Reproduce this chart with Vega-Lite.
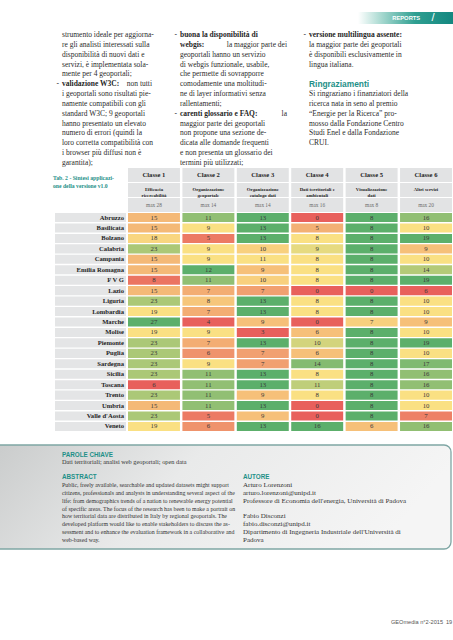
{
"$schema": "https://vega.github.io/schema/vega-lite/v6.json",
"width": 453,
"height": 640,
"autosize": {"type": "none"},
"padding": 0,
"background": "#ffffff",
"config": {"view": {"stroke": null}, "text": {"font": "Liberation Serif", "color": "#2b2b2b"}},
"datasets": {
"tabella": [
{"regione": "Abruzzo", "c1": 15, "c2": 11, "c3": 13, "c4": 0, "c5": 8, "c6": 16},
{"regione": "Basilicata", "c1": 15, "c2": 9, "c3": 13, "c4": 5, "c5": 8, "c6": 10},
{"regione": "Bolzano", "c1": 18, "c2": 5, "c3": 13, "c4": 8, "c5": 8, "c6": 19},
{"regione": "Calabria", "c1": 23, "c2": 9, "c3": 10, "c4": 9, "c5": 8, "c6": 9},
{"regione": "Campania", "c1": 15, "c2": 9, "c3": 11, "c4": 8, "c5": 8, "c6": 10},
{"regione": "Emilia Romagna", "c1": 15, "c2": 12, "c3": 9, "c4": 8, "c5": 8, "c6": 14},
{"regione": "F V G", "c1": 8, "c2": 11, "c3": 10, "c4": 8, "c5": 8, "c6": 19},
{"regione": "Lazio", "c1": 15, "c2": 7, "c3": 7, "c4": 0, "c5": 0, "c6": 6},
{"regione": "Liguria", "c1": 23, "c2": 8, "c3": 13, "c4": 8, "c5": 8, "c6": 10},
{"regione": "Lombardia", "c1": 19, "c2": 7, "c3": 13, "c4": 8, "c5": 8, "c6": 10},
{"regione": "Marche", "c1": 27, "c2": 4, "c3": 9, "c4": 0, "c5": 7, "c6": 9},
{"regione": "Molise", "c1": 19, "c2": 9, "c3": 3, "c4": 6, "c5": 8, "c6": 10},
{"regione": "Piemonte", "c1": 23, "c2": 7, "c3": 13, "c4": 10, "c5": 8, "c6": 19},
{"regione": "Puglia", "c1": 23, "c2": 6, "c3": 7, "c4": 6, "c5": 8, "c6": 10},
{"regione": "Sardegna", "c1": 23, "c2": 9, "c3": 7, "c4": 14, "c5": 8, "c6": 17},
{"regione": "Sicilia", "c1": 23, "c2": 11, "c3": 13, "c4": 8, "c5": 8, "c6": 16},
{"regione": "Toscana", "c1": 6, "c2": 11, "c3": 13, "c4": 11, "c5": 8, "c6": 16},
{"regione": "Trento", "c1": 23, "c2": 11, "c3": 9, "c4": 8, "c5": 8, "c6": 10},
{"regione": "Umbria", "c1": 15, "c2": 11, "c3": 13, "c4": 0, "c5": 8, "c6": 10},
{"regione": "Valle d'Aosta", "c1": 23, "c2": 5, "c3": 9, "c4": 0, "c5": 8, "c6": 7},
{"regione": "Veneto", "c1": 19, "c2": 6, "c3": 13, "c4": 16, "c5": 6, "c6": 16}
],
"intestazioni": [
{"classe": "c1", "titolo": "Classe 1", "descrizione": "Efficacia\nricercabilità", "massimo": "max 28"},
{"classe": "c2", "titolo": "Classe 2", "descrizione": "Organizzazione\ngeoportale", "massimo": "max 14"},
{"classe": "c3", "titolo": "Classe 3", "descrizione": "Organizzazione\ncatalogo dati", "massimo": "max 14"},
{"classe": "c4", "titolo": "Classe 4", "descrizione": "Dati territoriali e\nambientali", "massimo": "max 16"},
{"classe": "c5", "titolo": "Classe 5", "descrizione": "Visualizzazione\ndati", "massimo": "max 8"},
{"classe": "c6", "titolo": "Classe 6", "descrizione": "Altri servizi", "massimo": "max 20"}
],
"righe": [
{"colonna": 1, "riga": 1, "parte": "testo", "testo": "strumento ideale per aggiorna-"},
{"colonna": 1, "riga": 2, "parte": "testo", "testo": "re gli analisti interessati sulla"},
{"colonna": 1, "riga": 3, "parte": "testo", "testo": "disponibilità di nuovi dati e"},
{"colonna": 1, "riga": 4, "parte": "testo", "testo": "servizi, è implementata sola-"},
{"colonna": 1, "riga": 5, "parte": "testo", "testo": "mente per 4 geoportali;"},
{"colonna": 1, "riga": 6, "parte": "trattino", "testo": "-"},
{"colonna": 1, "riga": 6, "parte": "enfasi", "testo": "validazione W3C:"},
{"colonna": 1, "riga": 6, "parte": "seguito", "testo": "non tutti"},
{"colonna": 1, "riga": 7, "parte": "testo", "testo": "i geoportali sono risultati pie-"},
{"colonna": 1, "riga": 8, "parte": "testo", "testo": "namente compatibili con gli"},
{"colonna": 1, "riga": 9, "parte": "testo", "testo": "standard W3C; 9 geoportali"},
{"colonna": 1, "riga": 10, "parte": "testo", "testo": "hanno presentato un elevato"},
{"colonna": 1, "riga": 11, "parte": "testo", "testo": "numero di errori (quindi la"},
{"colonna": 1, "riga": 12, "parte": "testo", "testo": "loro corretta compatibilità con"},
{"colonna": 1, "riga": 13, "parte": "testo", "testo": "i browser più diffusi non è"},
{"colonna": 1, "riga": 14, "parte": "testo", "testo": "garantita);"},
{"colonna": 2, "riga": 1, "parte": "trattino", "testo": "-"},
{"colonna": 2, "riga": 1, "parte": "enfasi", "testo": "buona la disponibilità di"},
{"colonna": 2, "riga": 2, "parte": "enfasi", "testo": "webgis:"},
{"colonna": 2, "riga": 2, "parte": "seguito", "testo": "la maggior parte dei"},
{"colonna": 2, "riga": 3, "parte": "testo", "testo": "geoportali hanno un servizio"},
{"colonna": 2, "riga": 4, "parte": "testo", "testo": "di webgis funzionale, usabile,"},
{"colonna": 2, "riga": 5, "parte": "testo", "testo": "che permette di sovrapporre"},
{"colonna": 2, "riga": 6, "parte": "testo", "testo": "comodamente una moltitudi-"},
{"colonna": 2, "riga": 7, "parte": "testo", "testo": "ne di layer informativi senza"},
{"colonna": 2, "riga": 8, "parte": "testo", "testo": "rallentamenti;"},
{"colonna": 2, "riga": 9, "parte": "trattino", "testo": "-"},
{"colonna": 2, "riga": 9, "parte": "enfasi", "testo": "carenti glossario e FAQ:"},
{"colonna": 2, "riga": 9, "parte": "seguito", "testo": "la"},
{"colonna": 2, "riga": 10, "parte": "testo", "testo": "maggior parte dei geoportali"},
{"colonna": 2, "riga": 11, "parte": "testo", "testo": "non propone una sezione de-"},
{"colonna": 2, "riga": 12, "parte": "testo", "testo": "dicata alle domande frequenti"},
{"colonna": 2, "riga": 13, "parte": "testo", "testo": "e non presenta un glossario dei"},
{"colonna": 2, "riga": 14, "parte": "testo", "testo": "termini più utilizzati;"},
{"colonna": 3, "riga": 1, "parte": "trattino", "testo": "-"},
{"colonna": 3, "riga": 1, "parte": "enfasi", "testo": "versione multilingua assente:"},
{"colonna": 3, "riga": 2, "parte": "testo", "testo": "la maggior parte dei geoportali"},
{"colonna": 3, "riga": 3, "parte": "testo", "testo": "è disponibili esclusivamente in"},
{"colonna": 3, "riga": 4, "parte": "testo", "testo": "lingua italiana."},
{"colonna": 3, "riga": 6, "parte": "titolo", "testo": "Ringraziamenti"},
{"colonna": 3, "riga": 7, "parte": "testo", "testo": "Si ringraziano i finanziatori della"},
{"colonna": 3, "riga": 8, "parte": "testo", "testo": "ricerca nata in seno al premio"},
{"colonna": 3, "riga": 9, "parte": "testo", "testo": "“Energie per la Ricerca” pro-"},
{"colonna": 3, "riga": 10, "parte": "testo", "testo": "mosso dalla Fondazione Centro"},
{"colonna": 3, "riga": 11, "parte": "testo", "testo": "Studi Enel e dalla Fondazione"},
{"colonna": 3, "riga": 12, "parte": "testo", "testo": "CRUI."}
],
"riquadro": [
{"colonna": 1, "riga": -3, "parte": "titolo", "testo": "PAROLE CHIAVE"},
{"colonna": 1, "riga": -2, "parte": "parole", "testo": "Dati territoriali; analisi web geoportali; open data"},
{"colonna": 1, "riga": 0, "parte": "titolo", "testo": "ABSTRACT"},
{"colonna": 1, "riga": 1, "parte": "testo", "testo": "Public, freely available, searchable and updated datasets might support"},
{"colonna": 1, "riga": 2, "parte": "testo", "testo": "citizens, professionals and analysts in understanding several aspect of the"},
{"colonna": 1, "riga": 3, "parte": "testo", "testo": "life: from demographics trends of a nation to renewable energy potential"},
{"colonna": 1, "riga": 4, "parte": "testo", "testo": "of specific areas. The focus of the research has been to make a portrait on"},
{"colonna": 1, "riga": 5, "parte": "testo", "testo": "how territorial data are distributed in Italy by regional geoportals. The"},
{"colonna": 1, "riga": 6, "parte": "testo", "testo": "developed platform would like to enable stakeholders to discuss the as-"},
{"colonna": 1, "riga": 7, "parte": "testo", "testo": "sessment and to enhance the evaluation framework in a collaborative and"},
{"colonna": 1, "riga": 8, "parte": "testo", "testo": "web-based way."},
{"colonna": 2, "riga": 0, "parte": "titolo", "testo": "AUTORE"},
{"colonna": 2, "riga": 1, "parte": "autori", "testo": "Arturo Lorenzoni"},
{"colonna": 2, "riga": 2, "parte": "autori", "testo": "arturo.lorenzoni@unipd.it"},
{"colonna": 2, "riga": 3, "parte": "autori", "testo": "Professore di Economia dell'energia, Università di Padova"},
{"colonna": 2, "riga": 5, "parte": "autori", "testo": "Fabio Disconzi"},
{"colonna": 2, "riga": 6, "parte": "autori", "testo": "fabio.disconzi@unipd.it"},
{"colonna": 2, "riga": 7, "parte": "autori", "testo": "Dipartimento di Ingegneria Industriale dell'Università di"},
{"colonna": 2, "riga": 8, "parte": "autori", "testo": "Padova"}
]
},
"layer": [
{
"data": {"values": [{"rubrica": "REPORTS"}]},
"encoding": {
"x": {"field": "rubrica", "type": "nominal", "axis": null, "scale": {"type": "band", "domain": ["REPORTS"], "range": [358, 453], "paddingInner": 0, "paddingOuter": 0}},
"y": {"field": "rubrica", "type": "nominal", "axis": null, "scale": {"type": "band", "domain": ["REPORTS"], "range": [12, 24], "paddingInner": 0, "paddingOuter": 0}}
},
"layer": [
{"mark": {"type": "rect", "fill": {"gradient": "linear", "x1": 0, "y1": 0, "x2": 1, "y2": 0, "stops": [{"offset": 0, "color": "#ffffff"}, {"offset": 0.25, "color": "#a6d8cf"}, {"offset": 0.6, "color": "#2f9f91"}, {"offset": 1, "color": "#138780"}]}}},
{"mark": {"type": "text", "align": "left", "baseline": "middle", "font": "Liberation Sans", "fontWeight": "bold", "fontSize": 5.8, "color": "#ffffff"}, "encoding": {"x": {"field": "rubrica", "type": "nominal", "bandPosition": 0.36}, "text": {"field": "rubrica"}}},
{"mark": {"type": "text", "text": "/", "align": "center", "baseline": "middle", "font": "Liberation Sans", "fontSize": 11, "color": "#ffffff"}, "encoding": {"x": {"field": "rubrica", "type": "nominal", "bandPosition": 0.79}}}
]
},
{
"data": {"name": "righe"},
"encoding": {
"x": {"field": "colonna", "type": "quantitative", "axis": null, "scale": {"domain": [1, 2, 3], "range": [62, 180, 309], "zero": false, "nice": false}},
"y": {"field": "riga", "type": "quantitative", "axis": null, "scale": {"domain": [1, 14], "range": [35, 163], "zero": false, "nice": false}},
"text": {"field": "testo"}
},
"layer": [
{"transform": [{"filter": "datum.parte === 'testo'"}], "mark": {"type": "text", "align": "left", "baseline": "middle", "fontSize": 7.5}},
{"transform": [{"filter": "datum.parte === 'enfasi'"}], "mark": {"type": "text", "align": "left", "baseline": "middle", "fontSize": 7.5, "fontWeight": "bold", "color": "#1f1f1f"}},
{"transform": [{"filter": "datum.parte === 'trattino'"}], "mark": {"type": "text", "align": "right", "baseline": "middle", "fontSize": 7.5, "dx": -3}},
{"transform": [{"filter": "datum.parte === 'titolo'"}], "mark": {"type": "text", "align": "left", "baseline": "middle", "font": "Liberation Sans", "fontWeight": "bold", "fontSize": 8.4, "color": "#1e9088"}}
]
},
{
"data": {"name": "righe"},
"transform": [{"filter": "datum.parte === 'seguito'"}],
"mark": {"type": "text", "align": "right", "baseline": "middle", "fontSize": 7.5},
"encoding": {
"x": {"field": "colonna", "type": "quantitative", "axis": null, "scale": {"domain": [1, 2, 3], "range": [152, 287, 430], "zero": false, "nice": false}},
"y": {"field": "riga", "type": "quantitative", "axis": null, "scale": {"domain": [1, 14], "range": [35, 163], "zero": false, "nice": false}},
"text": {"field": "testo"}
}
},
{
"data": {"values": [{"didascalia": "Tab. 2 - Sintesi applicazi-\none della versione v1.0"}]},
"mark": {"type": "text", "align": "left", "baseline": "top", "lineBreak": "\n", "lineHeight": 8, "fontSize": 5.7, "fontWeight": "bold", "color": "#1e9088"},
"encoding": {
"x": {"field": "didascalia", "type": "nominal", "axis": null, "bandPosition": 0, "scale": {"type": "band", "range": [53, 126], "paddingInner": 0, "paddingOuter": 0}},
"y": {"field": "didascalia", "type": "nominal", "axis": null, "bandPosition": 0, "scale": {"type": "band", "range": [174.5, 190], "paddingInner": 0, "paddingOuter": 0}},
"text": {"field": "didascalia"}
}
},
{
"data": {"name": "intestazioni"},
"transform": [{"fold": ["titolo", "descrizione", "massimo"], "as": ["riga", "etichetta"]}],
"encoding": {
"x": {"field": "classe", "type": "nominal", "axis": null, "scale": {"type": "band", "domain": ["c1", "c2", "c3", "c4", "c5", "c6"], "range": [128, 452], "paddingInner": 0.045, "paddingOuter": 0}},
"y": {"field": "riga", "type": "nominal", "axis": null, "scale": {"type": "band", "domain": ["titolo", "descrizione", "massimo"], "range": [168, 212], "paddingInner": 0.07, "paddingOuter": 0}}
},
"layer": [
{"mark": {"type": "rect", "color": "#e2e3e4"}},
{"transform": [{"filter": "datum.riga === 'titolo'"}], "mark": {"type": "text", "fontSize": 6.6, "fontWeight": "bold", "color": "#1f1f1f", "baseline": "middle"}, "encoding": {"text": {"field": "etichetta"}}},
{"transform": [{"filter": "datum.riga === 'descrizione'"}], "mark": {"type": "text", "fontSize": 4.8, "fontWeight": "bold", "color": "#1f1f1f", "lineBreak": "\n", "lineHeight": 6.2, "baseline": "middle"}, "encoding": {"text": {"field": "etichetta"}}},
{"transform": [{"filter": "datum.riga === 'massimo'"}], "mark": {"type": "text", "fontSize": 5.3, "color": "#6b6b6b", "baseline": "middle"}, "encoding": {"text": {"field": "etichetta"}}}
]
},
{
"data": {"name": "tabella"},
"encoding": {
"y": {"field": "regione", "type": "nominal", "axis": null, "scale": {"type": "band", "domain": ["Abruzzo", "Basilicata", "Bolzano", "Calabria", "Campania", "Emilia Romagna", "F V G", "Lazio", "Liguria", "Lombardia", "Marche", "Molise", "Piemonte", "Puglia", "Sardegna", "Sicilia", "Toscana", "Trento", "Umbria", "Valle d'Aosta", "Veneto"], "range": [213, 431], "paddingInner": 0.13, "paddingOuter": 0}}
},
"layer": [
{"mark": {"type": "rect", "color": "#e4e5e6"}, "encoding": {"x": {"datum": "Regione", "type": "nominal", "axis": null, "scale": {"type": "band", "domain": ["Regione"], "range": [55, 126], "paddingInner": 0, "paddingOuter": 0}}}},
{"mark": {"type": "text", "align": "right", "baseline": "middle", "fontSize": 6.6, "fontWeight": "bold", "color": "#1f1f1f", "dx": -2}, "encoding": {"x": {"datum": "Regione", "type": "nominal", "bandPosition": 1}, "text": {"field": "regione"}}}
]
},
{
"data": {"name": "tabella"},
"transform": [{"fold": ["c1", "c2", "c3", "c4", "c5", "c6"], "as": ["classe", "valore"]}],
"encoding": {
"x": {"field": "classe", "type": "nominal", "axis": null, "scale": {"type": "band", "domain": ["c1", "c2", "c3", "c4", "c5", "c6"], "range": [128, 452], "paddingInner": 0.045, "paddingOuter": 0}},
"y": {"field": "regione", "type": "nominal", "axis": null, "scale": {"type": "band", "domain": ["Abruzzo", "Basilicata", "Bolzano", "Calabria", "Campania", "Emilia Romagna", "F V G", "Lazio", "Liguria", "Lombardia", "Marche", "Molise", "Piemonte", "Puglia", "Sardegna", "Sicilia", "Toscana", "Trento", "Umbria", "Valle d'Aosta", "Veneto"], "range": [213, 431], "paddingInner": 0.13, "paddingOuter": 0}}
},
"layer": [
{"transform": [{"filter": "datum.classe === 'c1'"}], "mark": "rect", "encoding": {"color": {"field": "valore", "type": "quantitative", "legend": null, "scale": {"domain": [6, 19, 27], "range": ["#e8605c", "#fae083", "#5caf6b"], "interpolate": "rgb"}}}},
{"transform": [{"filter": "datum.classe === 'c2'"}], "mark": "rect", "encoding": {"color": {"field": "valore", "type": "quantitative", "legend": null, "scale": {"domain": [4, 9, 12], "range": ["#e8605c", "#fae083", "#5caf6b"], "interpolate": "rgb"}}}},
{"transform": [{"filter": "datum.classe === 'c3'"}], "mark": "rect", "encoding": {"color": {"field": "valore", "type": "quantitative", "legend": null, "scale": {"domain": [3, 11, 13], "range": ["#e8605c", "#fae083", "#5caf6b"], "interpolate": "rgb"}}}},
{"transform": [{"filter": "datum.classe === 'c4'"}], "mark": "rect", "encoding": {"color": {"field": "valore", "type": "quantitative", "legend": null, "scale": {"domain": [0, 8, 16], "range": ["#e8605c", "#fae083", "#5caf6b"], "interpolate": "rgb"}}}},
{"transform": [{"filter": "datum.classe === 'c5'"}], "mark": "rect", "encoding": {"color": {"field": "valore", "type": "quantitative", "legend": null, "scale": {"domain": [0, 7.99, 8], "range": ["#e8605c", "#fae083", "#5caf6b"], "interpolate": "rgb"}}}},
{"transform": [{"filter": "datum.classe === 'c6'"}], "mark": "rect", "encoding": {"color": {"field": "valore", "type": "quantitative", "legend": null, "scale": {"domain": [6, 10, 19], "range": ["#e8605c", "#fae083", "#5caf6b"], "interpolate": "rgb"}}}},
{"mark": {"type": "text", "fontSize": 6.8, "color": "#3a3a3a", "baseline": "middle"}, "encoding": {"text": {"field": "valore", "type": "quantitative"}}}
],
"resolve": {"scale": {"color": "independent"}}
},
{
"data": {"values": [{"riquadro": "Parole chiave, abstract, autore"}]},
"mark": {"type": "rect", "cornerRadius": 7, "stroke": "#7fa6a4", "strokeWidth": 1.3, "fill": {"gradient": "linear", "x1": 0, "y1": 0, "x2": 1, "y2": 0.2, "stops": [{"offset": 0, "color": "#c9cbcb"}, {"offset": 0.45, "color": "#e9eaea"}, {"offset": 1, "color": "#f5f5f5"}]}},
"encoding": {
"x": {"field": "riquadro", "type": "nominal", "axis": null, "scale": {"type": "band", "range": [-10, 451], "paddingInner": 0, "paddingOuter": 0}},
"y": {"field": "riquadro", "type": "nominal", "axis": null, "scale": {"type": "band", "range": [445, 549], "paddingInner": 0, "paddingOuter": 0}}
}
},
{
"data": {"name": "riquadro"},
"encoding": {
"x": {"field": "colonna", "type": "quantitative", "axis": null, "scale": {"domain": [1, 2], "range": [62, 243], "zero": false, "nice": false}},
"y": {"field": "riga", "type": "quantitative", "axis": null, "scale": {"domain": [-3, 0, 8], "range": [455, 477, 540], "zero": false, "nice": false}},
"text": {"field": "testo"}
},
"layer": [
{"transform": [{"filter": "datum.parte === 'titolo'"}], "mark": {"type": "text", "align": "left", "baseline": "middle", "font": "Liberation Sans", "fontWeight": "bold", "fontSize": 6.3, "color": "#1e9088"}},
{"transform": [{"filter": "datum.parte === 'testo'"}], "mark": {"type": "text", "align": "left", "baseline": "middle", "fontSize": 5.9, "color": "#333333"}},
{"transform": [{"filter": "datum.parte === 'parole'"}], "mark": {"type": "text", "align": "left", "baseline": "middle", "fontSize": 6.3, "color": "#333333"}},
{"transform": [{"filter": "datum.parte === 'autori'"}], "mark": {"type": "text", "align": "left", "baseline": "middle", "fontSize": 7.0, "color": "#333333"}}
]
},
{
"data": {"values": [{"voce": "GEOmedia n°2-2015"}, {"voce": "19"}]},
"mark": {"type": "text", "font": "Liberation Sans", "fontSize": 5.6, "color": "#555555", "baseline": "middle"},
"encoding": {
"x": {"field": "voce", "type": "nominal", "axis": null, "scale": {"type": "point", "domain": ["GEOmedia n°2-2015", "19"], "range": [417, 449], "padding": 0}},
"y": {"datum": "piede", "type": "nominal", "axis": null, "scale": {"type": "band", "domain": ["piede"], "range": [617, 627], "paddingInner": 0, "paddingOuter": 0}},
"text": {"field": "voce"}
}
}
],
"resolve": {"scale": {"x": "independent", "y": "independent", "color": "independent"}}
}
